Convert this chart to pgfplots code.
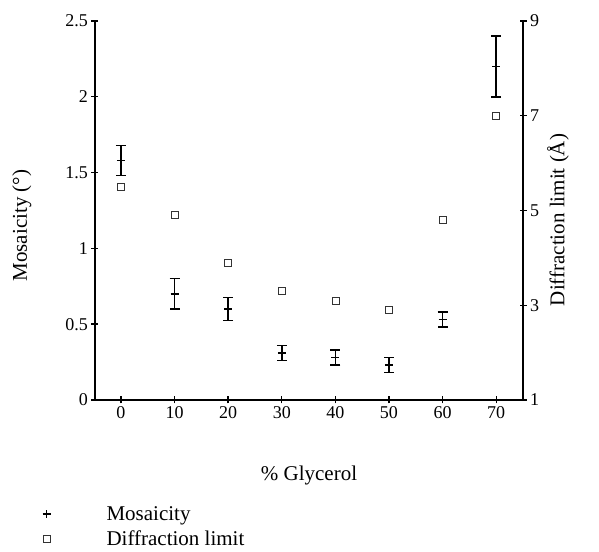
\documentclass[border=0pt]{standalone}
\usepackage{pgfplots}
\pgfplotsset{compat=1.18}
\usetikzlibrary{calc}
\usepackage{fontspec}
\setmainfont{Liberation Serif}

\pgfplotsset{
  common/.style={
    width=428pt, height=379pt, scale only axis,
    xmin=-4.85, xmax=75,
    tick style={black, line width=1.4pt},
    tick align=outside, major tick length=7pt,
    /pgf/number format/assume math mode=true,
    tick label style={font=\fontsize{18}{18}\selectfont},
  },
  legimg/.style={legend image code/.code={%
    \path[draw=none, fill=none] (0pt,0pt) -- (58pt,0pt);
    \draw[mark repeat=2,mark phase=2] plot coordinates {(0pt,0pt)(0pt,0pt)(0pt,0pt)};}},
}

\begin{document}
\begin{tikzpicture}
\begin{axis}[common,
  axis x line=bottom, axis y line=left,
  axis line style={-, line width=1.6pt},
  ymin=0, ymax=2.5,
  xtick={0,10,20,30,40,50,60,70},
  ytick={0,0.5,1,1.5,2,2.5},
  xlabel={\% Glycerol},
  ylabel={Mosaicity (°)},
  xlabel style={at={(axis description cs:0.5,-0.2)}, anchor=center, font=\fontsize{21}{21}\selectfont},
  ylabel style={at={(axis description cs:-0.171,0.46)}, anchor=center, font=\fontsize{21}{21}\selectfont},
  legend style={at={(-0.13,-0.27)}, anchor=north west, draw=none, fill=none,
    font=\fontsize{21}{21}\selectfont, row sep=5pt},
  legend cell align=left,
]
\addplot[only marks, mark=+, mark size=4pt, mark options={line width=1.6pt}, forget plot,
  error bars/.cd, y dir=both, y explicit,
  error mark options={rotate=90, mark size=5pt, line width=1.5pt},
  error bar style={line width=1.5pt}]
  table[x=x, y=y, y error=err] {
x y err
0 1.58 0.10
10 0.70 0.10
20 0.60 0.075
30 0.31 0.05
40 0.28 0.05
50 0.23 0.05
60 0.53 0.05
70 2.20 0.20
};
\addlegendimage{only marks, mark=+, mark size=4pt, mark options={line width=1.6pt}, legimg}
\addlegendentry{Mosaicity}
\addlegendimage{only marks, mark=square, mark size=3.5pt, mark options={line width=0.7pt}, black!80, legimg}
\addlegendentry{Diffraction limit}
\coordinate (bl) at (rel axis cs:0,0);
\coordinate (tr) at (rel axis cs:1,1);
\end{axis}
\begin{axis}[common,
  axis x line=none, axis y line=right,
  axis line style={-, line width=1.6pt},
  ymin=1, ymax=9,
  ytick={1,3,5,7,9},
  ylabel={Diffraction limit (Å)},
  ylabel style={at={(axis description cs:1.082,0.475)}, anchor=center, font=\fontsize{21}{21}\selectfont},
]
\addplot[only marks, mark=square, mark size=3.5pt, mark options={line width=0.7pt}, black!80]
  table {
0 5.5
10 4.9
20 3.9
30 3.3
40 3.1
50 2.9
60 4.8
70 7.0
};
\end{axis}
\path ($(bl)+(-95pt,-149pt)$) rectangle ($(tr)+(76pt,21pt)$);
\end{tikzpicture}
\end{document}
